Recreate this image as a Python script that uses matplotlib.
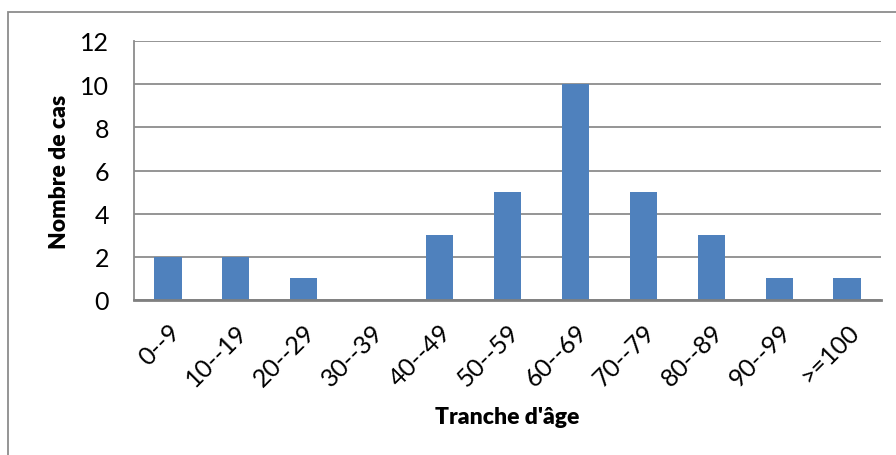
import matplotlib.pyplot as plt
from matplotlib.patches import Rectangle
import numpy as np

categories = ['0--9', '10--19', '20--29', '30--39', '40--49', '50--59',
              '60--69', '70--79', '80--89', '90--99', '>=100']
cases = [2, 2, 1, 0, 3, 5, 10, 5, 3, 1, 1]
yticks = [0, 2, 4, 6, 8, 10, 12]

plt.rcParams['font.family'] = ['Lato', 'DejaVu Sans']

fig = plt.figure(figsize=(8.96, 4.56), dpi=100)
W, H = 896, 456
ax = fig.add_axes([134 / W, 1 - 301 / H, (881 - 134) / W, (301 - 42) / H])

x = np.arange(len(categories))
ax.bar(x, cases, width=0.4, color='#4F81BD', zorder=3)

ax.set_xlim(-0.5, len(categories) - 0.5)
ax.set_ylim(0, 12)
ax.set_yticks(yticks)
ax.set_xticks(x)
ax.set_xticklabels(categories, rotation=45, ha='right', rotation_mode='anchor')
ax.tick_params(axis='both', length=0, labelsize=18, colors='black')
ax.tick_params(axis='x', pad=14)
ax.tick_params(axis='y', pad=18)

ax.grid(axis='y', color='#8c8c8c', linewidth=1.3, zorder=0)
for s in ['top', 'right']:
    ax.spines[s].set_visible(False)
ax.spines['left'].set_color('#8c8c8c')
ax.spines['left'].set_linewidth(1.3)
ax.spines['bottom'].set_color('#808080')
ax.spines['bottom'].set_linewidth(2)
ax.spines['bottom'].set_zorder(4)

fig.text(60 / W, 1 - 172 / H, 'Nombre de cas', rotation=90, ha='center', va='center',
         fontsize=16.5, fontweight='heavy')
fig.text(507 / W, 1 - 418 / H, "Tranche d'âge", ha='center', va='center',
         fontsize=16.5, fontweight='heavy')

# chart border (cut off on right and bottom)
fig.patches.append(Rectangle((8 / W, -0.05), 1.1, 1 - 13 / H + 0.05,
                             transform=fig.transFigure, fill=False,
                             edgecolor='#8c8c8c', linewidth=1.3))

fig.savefig('out.png', dpi=100)
